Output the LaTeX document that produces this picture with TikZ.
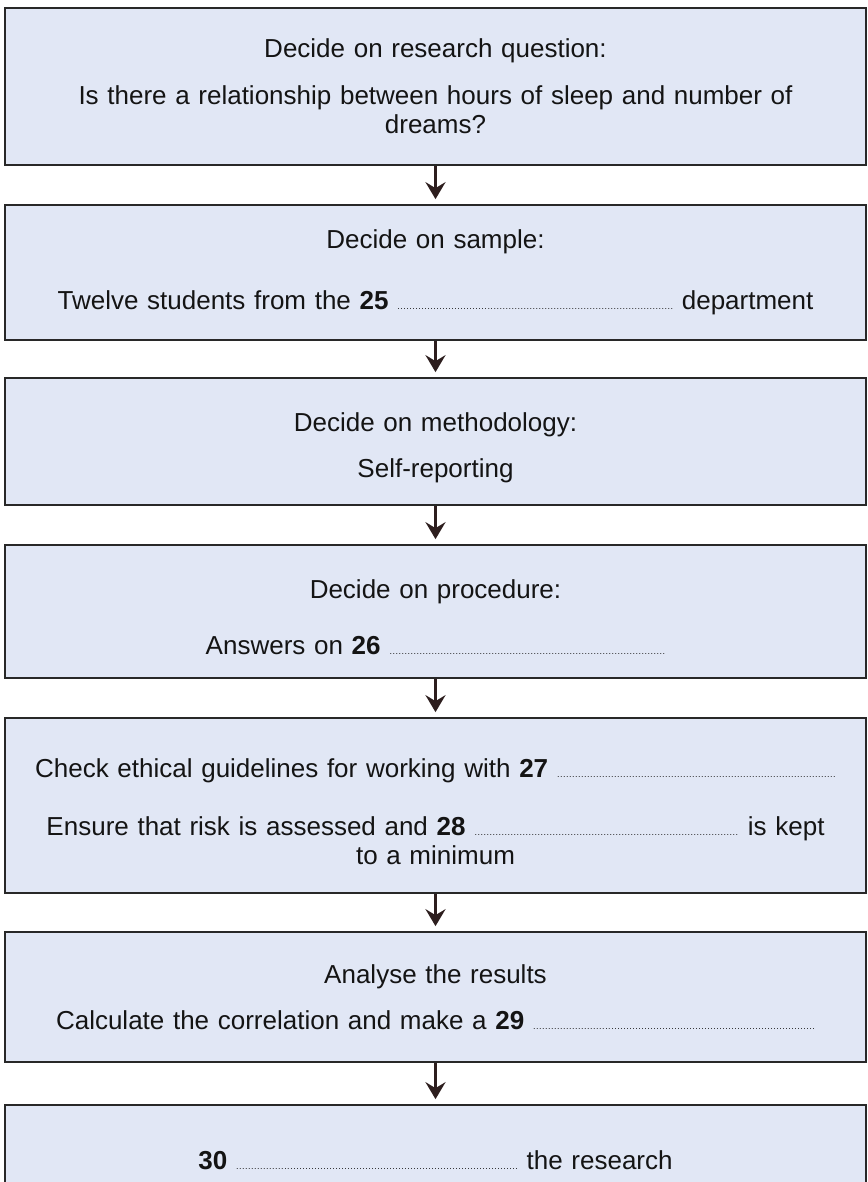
\documentclass[tikz,border=0pt]{standalone}
\usepackage{fontspec}
\setmainfont{Liberation Sans}
\usetikzlibrary{arrows.meta}
\definecolor{boxfill}{RGB}{225,231,245}
\definecolor{boxline}{RGB}{40,40,40}
\definecolor{arrowcol}{RGB}{45,30,30}
\definecolor{txt}{RGB}{20,20,20}
\newcommand{\leaderdots}[1]{{\fontsize{9}{9}\selectfont\makebox[#1]{\leaders\hbox to 3pt{\hss.\hss}\hfill}}}
\newcommand{\lowerby}[1]{\rule{0pt}{#1}}
\begin{document}
\begin{tikzpicture}[x=1pt,y=-1pt,
  flowbox/.style={draw=boxline, line width=1.7pt, fill=boxfill, rectangle,
    minimum width=861pt, inner sep=0pt, text width=840pt, align=center,
    text=txt, font=\fontsize{26}{29}\selectfont},
  flowarrow/.style={draw=arrowcol, line width=3.4pt,
    -{Stealth[length=17pt,width=20pt,inset=6pt]}}]
\useasboundingbox (0,0) rectangle (867,1182);
\clip (0,0) rectangle (867,1182);
\fill[white] (0,0) rectangle (867,1182);

\node[flowbox, minimum height=157pt] (b1) at (435.5,86.5)
  {Decide on research question:\\[18pt]
   Is there a relationship between hours of sleep and number of\\
   dreams?};
\node[flowbox, minimum height=135pt] (b2) at (435.5,272.5)
  {Decide on sample:\\[32pt]
   Twelve students from the \textbf{25} \leaderdots{276pt} department};
\node[flowbox, minimum height=127pt] (b3) at (435.5,441.5)
  {\lowerby{31pt}Decide on methodology:\\[17pt]
   Self-reporting};
\node[flowbox, minimum height=133pt] (b4) at (435.5,611.5)
  {\lowerby{30pt}Decide on procedure:\\[27pt]
   Answers on \textbf{26} \leaderdots{276pt}};
\node[flowbox, minimum height=175pt] (b5) at (435.5,805.5)
  {\lowerby{31pt}Check ethical guidelines for working with \textbf{27} \leaderdots{279pt}\\[29pt]
   Ensure that risk is assessed and \textbf{28} \leaderdots{265pt} is kept\\
   to a minimum};
\node[flowbox, minimum height=130pt] (b6) at (435.5,997)
  {Analyse the results\\[17pt]
   Calculate the correlation and make a \textbf{29} \leaderdots{282pt}};
\node[flowbox, minimum height=110pt] (b7) at (435.5,1160)
  {\textbf{30} \leaderdots{282pt} the research};

\draw[flowarrow] (b1.south) -- ([yshift=5pt]b2.north);
\draw[flowarrow] (b2.south) -- ([yshift=5pt]b3.north);
\draw[flowarrow] (b3.south) -- ([yshift=5pt]b4.north);
\draw[flowarrow] (b4.south) -- ([yshift=5pt]b5.north);
\draw[flowarrow] (b5.south) -- ([yshift=5pt]b6.north);
\draw[flowarrow] (b6.south) -- ([yshift=5pt]b7.north);
\end{tikzpicture}
\end{document}
